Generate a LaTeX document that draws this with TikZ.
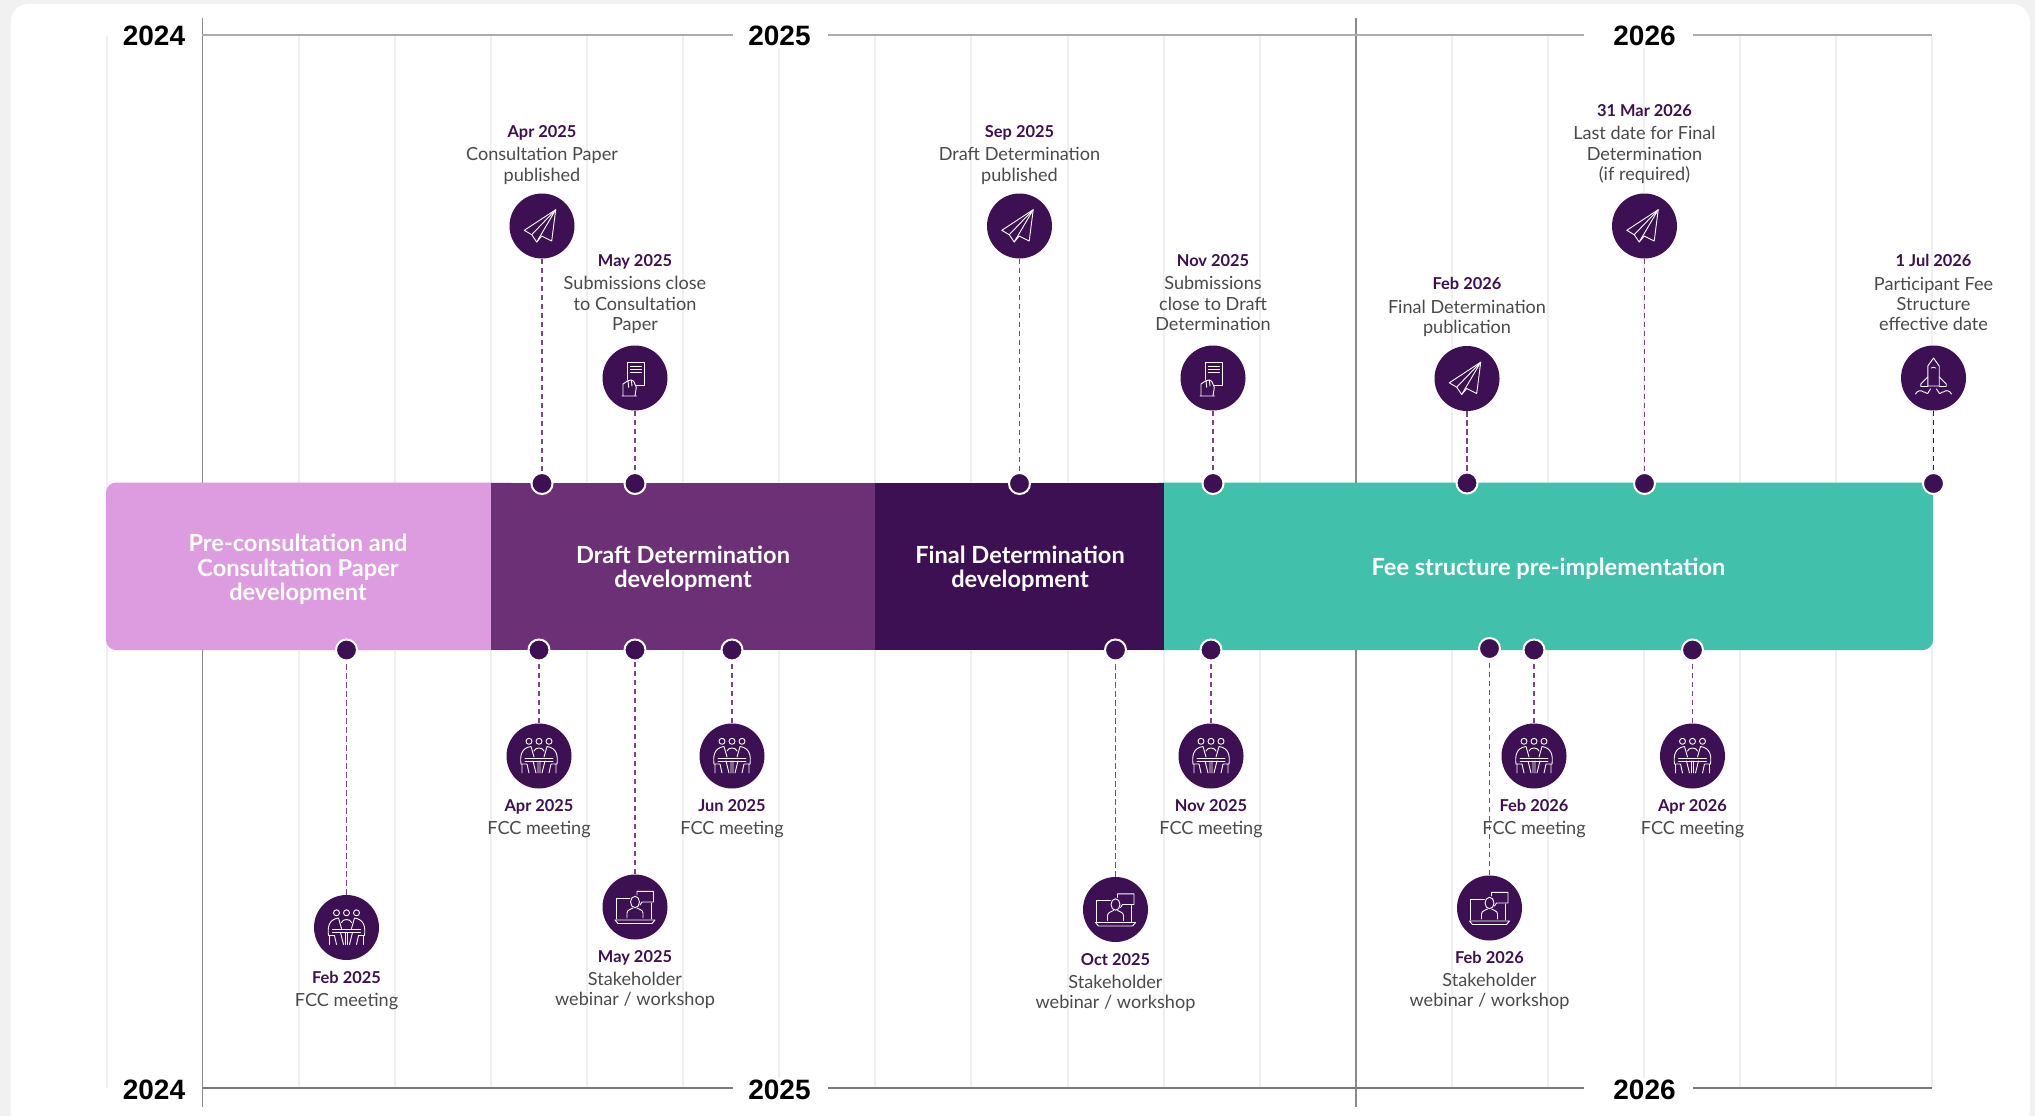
\documentclass[tikz,border=0pt]{standalone}
\usepackage{fontspec}
\setmainfont{Lato}
\newfontfamily\yearfont{Liberation Sans}
\definecolor{pinkc}{HTML}{DD9CDF}
\definecolor{midc}{HTML}{6C3077}
\definecolor{darkc}{HTML}{3C1053}
\definecolor{tealc}{HTML}{41C1AC}
\definecolor{textc}{HTML}{4A4A4A}
\definecolor{gridc}{HTML}{EFEFF1}
\definecolor{pagec}{HTML}{F1F1F1}
\definecolor{axisc}{HTML}{8A8A8A}
\tikzset{
 gridline/.style={gridc,line width=2pt},
 axisv/.style={axisc,line width=1.4pt},
 axistop/.style={black!32,line width=1.8pt},
 axisbot/.style={black!52,line width=1.5pt},
 yearlabel/.style={font=\yearfont\bfseries\fontsize{28}{30}\selectfont,text=black,inner sep=0pt},
 barlabel/.style={font=\bfseries\fontsize{23.6}{24.6}\selectfont,text=white,align=center,inner sep=0pt},
 evtext/.style={font=\fontsize{18.1}{20.2}\selectfont,text=textc,align=center,inner sep=0pt,anchor=north},
 iconc/.style={circle,fill=darkc,minimum size=65pt,inner sep=0pt},
 dotn/.style={circle,fill=darkc,draw=white,line width=2pt,minimum size=21pt,inner sep=0pt},
 conn/.style={midc!90,line width=1.3pt,dash pattern=on 5.5pt off 3.5pt},
 connd/.style={darkc,line width=1.3pt,dash pattern=on 5.5pt off 3.5pt},
 ico/.style={white,line width=0.9pt,line join=round,line cap=round},
 plane/.pic={\draw[ico] (13.7,-16.3)--(-17.7,4.3)--(-10.3,8.7)--(-5.3,16)--(-0.3,10)--(9.7,15)--cycle;
   \draw[ico] (13.7,-16.3)--(-10.3,8.7) (13.7,-16.3)--(-5.3,16);},
 dochand/.pic={\draw[ico] (-8,1.5)--(-8,-15.7)--(9.3,-15.7)--(9.3,7.7)--(1,7.7);
   \draw[ico] (-4.7,-11.7)--(6.3,-11.7) (-4.7,-8.7)--(6.3,-8.7) (-4.7,-5.7)--(6.3,-5.7);
   \draw[ico] (-13,18)--(1.3,18) (-12,18)--(-12,6)--(-7,2.7)--(-3.7,2)--(-1.3,3.3)--(1.3,9.3)--(0,18) (-7,2.7)--(-6.3,9.3) (-3.7,2)--(-3,8);},
 meeting/.pic={\draw[ico] (-10,-14.7) circle (3) (0,-14.7) circle (3) (10,-14.7) circle (3);
   \draw[ico] (-18,8) .. controls (-19,0) and (-18,-8) .. (-8,-9.5)--(-5,1);
   \draw[ico] (18,8) .. controls (19,0) and (18,-8) .. (8,-9.5)--(5,1);
   \draw[ico] (-5,-5) .. controls (-4,-9) and (4,-9) .. (5,-5);
   \draw[ico] (-14,2)--(14,2) (-14,5)--(14,5);
   \draw[ico] (-6,5)--(-3,17) (-1,5)--(-1,17) (1,5)--(1,17) (6,5)--(3,17);
   \draw[ico] (-18,8)--(-12,8)--(-10,17) (18,8)--(12,8)--(10,17) (-17,8)--(-17,17) (17,8)--(17,17);},
 laptop/.pic={\draw[ico] (-19,12)--(-19,-9)--(-5,-9) (16,-4)--(16,12);
   \draw[ico] (-20,13)--(20,13)--(17,16.5)--(-17,16.5)--cycle;
   \draw[ico] (2,-15.7)--(18.5,-15.7)--(18.5,-5)--(7,-5)--(5,-2) (2,-15.7)--(2,-12);
   \draw[ico] (0,-5) ellipse (4.5 and 5.7);
   \draw[ico] (-8,11)--(-8,6) .. controls (-8,3) and (-4,2) .. (-2,1) (8,11)--(8,6) .. controls (8,3) and (4,2) .. (2,1);},
 rocket/.pic={\draw[ico] (-5.7,8)--(-5.7,-12)--(0,-20)--(5.7,-12)--(5.7,8)--cycle;
   \draw[ico] (-5.7,-1)--(-12.7,6)--(-12.7,8.5)--(-5.7,8.5) (5.7,-1)--(12.7,6)--(12.7,8.5)--(5.7,8.5);
   \draw[ico] (-2.3,-10) .. controls (-1,-11) and (1,-11) .. (2.3,-10);
   \draw[ico] (-18,16) .. controls (-16,12) and (-12,12) .. (-10,14) .. controls (-8,13) and (-6,18) .. (-5,14) -- (-3,11);
   \draw[ico] (18,16) .. controls (16,12) and (12,12) .. (10,14) .. controls (8,13) and (6,18) .. (5,14) -- (3,11);},
}
% style of connector, name, x, dot y, circle y, icon, label top y, date, label
\newcommand{\tlev}[9]{%
 \node[dotn] (d#2) at (#3,#4) {};
 \node[iconc] (c#2) at (#3,#5) {};
 \pic at (c#2) {#6};
 \draw[#1] (c#2) -- (d#2);
 \node[evtext] (t#2) at (#3,#7) {{\bfseries\fontsize{16.4}{20}\selectfont\textcolor{darkc}{#8}}\\[3pt]#9};
}
\begin{document}
\begin{tikzpicture}[x=1pt,y=-1pt]
\useasboundingbox (0,0) rectangle (2035,1116);
\fill[pagec] (0,0) rectangle (2035,1116);
\fill[white,rounded corners=18pt] (10.5,4) rectangle (2030,1130);
% grid
\foreach \k in {0,2,3,4,5,6,7,8,9,10,11,12,14,15,16,17,18,19}{
  \draw[gridline] ({106.5+96.1*\k},36) -- ({106.5+96.1*\k},1088);
}
% axes
\draw[axisv] (202.5,18) -- (202.5,1107);
\draw[axisv] (1356,18) -- (1356,1107);
\draw[axistop] (202,35) -- (733,35) (828,35) -- (1584,35) (1693,35) -- (1932,35);
\draw[axisbot] (202,1088) -- (733,1088) (828,1088) -- (1584,1088) (1693,1088) -- (1932,1088);
\node[yearlabel,fill=white,inner ysep=2pt] (y1) at (154,36) {2024};
\node[yearlabel,fill=white,inner ysep=2pt] (y2) at (779.5,36) {2025};
\node[yearlabel,fill=white,inner ysep=2pt] (y3) at (1644.5,36) {2026};
\node[yearlabel,fill=white,inner ysep=2pt] (y4) at (154,1090) {2024};
\node[yearlabel,fill=white,inner ysep=2pt] (y5) at (779.5,1090) {2025};
\node[yearlabel,fill=white,inner ysep=2pt] (y6) at (1644.5,1090) {2026};
% bar
\fill[pinkc,rounded corners=10pt] (106,482.5) rectangle (520,650);
\fill[midc] (491,482.5) rectangle (875,650);
\fill[darkc] (875,482.5) rectangle (1164,650);
\fill[tealc,rounded corners=10pt] (1150,482.5) rectangle (1933,650);
\fill[darkc] (1150,482.5) rectangle (1164,650);
\node[barlabel] (b1) at (298,569.5) {Pre-consultation and\\Consultation Paper\\development};
\node[barlabel] (b2) at (683,568.5) {Draft Determination\\development};
\node[barlabel] (b3) at (1020,568.5) {Final Determination\\development};
\node[barlabel] (b4) at (1548.5,568.5) {Fee structure pre-implementation};
% top events
\tlev{conn}{a}{542}{483.5}{226}{plane}{125.5}{Apr 2025}{Consultation Paper\\published}
\tlev{conn}{b}{635}{483.5}{378}{dochand}{254.5}{May 2025}{Submissions close\\to Consultation\\Paper}
\tlev{conn}{c}{1019.5}{483.5}{226}{plane}{125.5}{Sep 2025}{Draft Determination\\published}
\tlev{conn}{e}{1213}{483.5}{378}{dochand}{254.5}{Nov 2025}{Submissions\\close to Draft\\Determination}
\tlev{conn}{f}{1467}{483}{378.5}{plane}{277.5}{Feb 2026}{Final Determination\\publication}
\tlev{conn}{g}{1644.5}{483.5}{226}{plane}{104.5}{31 Mar 2026}{Last date for Final\\Determination\\(if required)}
\tlev{connd}{h}{1933.5}{483.5}{378}{rocket}{254.5}{1 Jul 2026}{Participant Fee\\Structure\\effective date}
% bottom events
\tlev{conn}{i}{346.5}{650}{927.5}{meeting}{971}{Feb 2025}{FCC meeting}
\tlev{conn}{j}{539}{650}{756}{meeting}{799}{Apr 2025}{FCC meeting}
\tlev{conn}{k}{635}{650}{907}{laptop}{950}{May 2025}{Stakeholder\\webinar / workshop}
\tlev{conn}{l}{732}{650}{756}{meeting}{799}{Jun 2025}{FCC meeting}
\tlev{conn}{m}{1115.5}{650}{909.5}{laptop}{953}{Oct 2025}{Stakeholder\\webinar / workshop}
\tlev{conn}{n}{1211}{650}{756}{meeting}{799}{Nov 2025}{FCC meeting}
\tlev{conn}{o}{1489.5}{648.5}{908}{laptop}{951}{Feb 2026}{Stakeholder\\webinar / workshop}
\tlev{conn}{p}{1534}{650}{756}{meeting}{799}{Feb 2026}{FCC meeting}
\tlev{conn}{q}{1692.5}{650}{756}{meeting}{799}{Apr 2026}{FCC meeting}
\end{tikzpicture}
\end{document}
